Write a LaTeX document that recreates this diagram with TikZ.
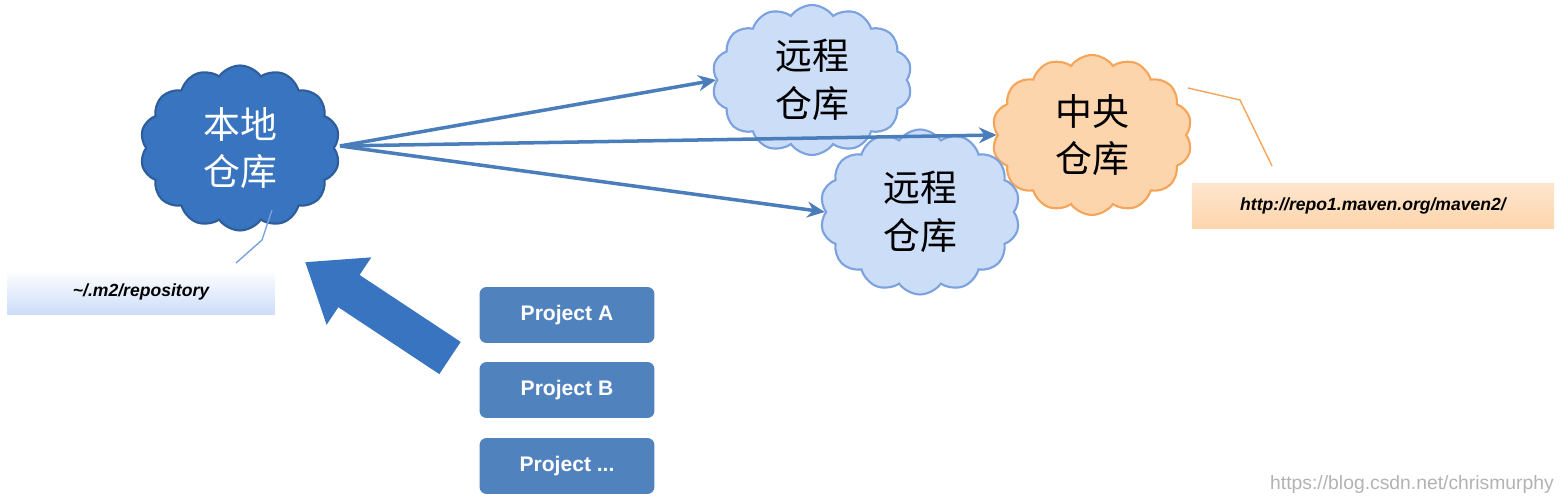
\documentclass[tikz,border=0pt]{standalone}
\usepackage{fontspec}
\setmainfont{Liberation Sans}
\newfontfamily\cjk{Noto Sans CJK SC}
\usetikzlibrary{shapes.symbols,arrows.meta}
\definecolor{dblue}{HTML}{3874C0}
\definecolor{lblue}{HTML}{CCDDF8}
\definecolor{bline}{HTML}{7BA2DE}
\definecolor{arr}{HTML}{4A7EBB}
\definecolor{orf}{HTML}{FDD5AC}
\definecolor{orl}{HTML}{F4A55A}
\definecolor{proj}{HTML}{5082BE}
\tikzset{
 cl/.style={cloud, cloud puffs=14, cloud puff arc=110, aspect=1.2, line width=1.2pt, font=\cjk\fontsize{21}{27}\selectfont, align=center, inner sep=0pt},
 link/.style={draw=arr, line width=2pt, -{Stealth[length=10pt,width=9pt]}},
 proj/.style={rounded corners=4pt, fill=proj, text=white, minimum width=3.5cm, minimum height=1.12cm, font=\bfseries\fontsize{12}{15}\selectfont},
 lab/.style={font=\bfseries\itshape\fontsize{10}{13}\selectfont, minimum height=0.9cm}
}
\begin{document}
\begin{tikzpicture}[x=0.02cm,y=-0.02cm]
\useasboundingbox (0,0) rectangle (1568,502);
\node[cl, fill=dblue, draw=dblue!80!black, text=white, minimum width=4cm, minimum height=3.3cm] (local) at (240,148) {本地\\仓库};
\node[cl, fill=lblue, draw=bline, minimum width=4cm, minimum height=3cm] (r1) at (812,80) {远程\\仓库};
\node[cl, fill=orf, draw=orl, minimum width=4cm, minimum height=3.2cm] (c) at (1092,135) {中央\\仓库};
\node[cl, fill=lblue, draw=bline, minimum width=4cm, minimum height=3.3cm] (r2) at (920,212) {远程\\仓库};
\coordinate (src) at (340,146);
\draw[link] (src) -- (r1.west);
\draw[link] (src) -- (c.west);
\draw[link] (src) -- (r2.west);
\node[lab, minimum width=5.35cm, top color=white, bottom color=lblue] (m2) at (141,292) {\textasciitilde/.m2/repository};
\node[lab, minimum width=7.25cm, top color=orf!60, bottom color=orf] (url) at (1373,206) {http://repo1.maven.org/maven2/};
\draw[bline, line width=0.8pt] (236,263) -- (262,240) -- (272,210);
\coordinate (k1) at (1240,100);
\draw[orl, line width=0.8pt] (1188,88) -- (k1) -- (1272,166);
\node[proj] (pa) at (567,315) {Project A};
\node[proj] (pb) at (567,390) {Project B};
\node[proj] (pc) at (567,466) {Project ...};
\coordinate (bt) at (305,262);
\coordinate (bs) at (450,358);
\draw[-{Triangle[length=30pt,width=44pt]}, line width=22pt, draw=dblue] (bs) -- (bt);
\node[text=gray!60, font=\fontsize{11}{13}\selectfont, anchor=east] (wm) at (1560,485) {https://blog.csdn.net/chrismurphy};
\end{tikzpicture}
\end{document}
